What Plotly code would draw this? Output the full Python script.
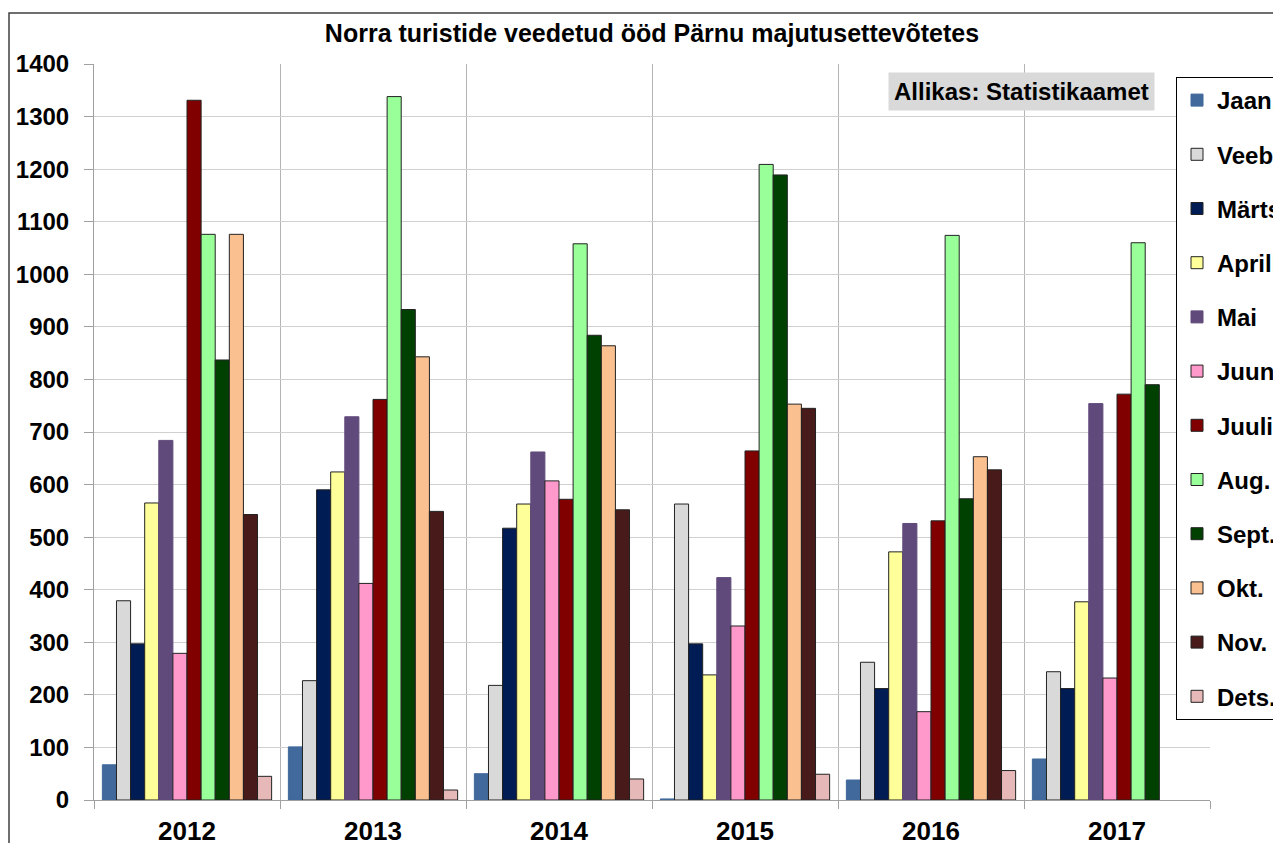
import plotly.graph_objects as go

years = ["2012", "2013", "2014", "2015", "2016", "2017"]

months = ["Jaan.", "Veebr.", "Märts", "Aprill", "Mai", "Juuni",
          "Juuli", "Aug.", "Sept.", "Okt.", "Nov.", "Dets."]

jaan = [67, 101, 50, 2, 38, 78]
veebr = [379, 227, 218, 563, 262, 244]
marts = [297, 590, 517, 297, 212, 212]
aprill = [565, 624, 563, 238, 472, 377]
mai = [684, 729, 662, 423, 526, 754]
juuni = [279, 412, 607, 331, 168, 232]
juuli = [1331, 762, 572, 664, 531, 772]
aug = [1076, 1338, 1058, 1209, 1074, 1060]
sept = [837, 933, 884, 1189, 573, 790]
okt = [1076, 843, 864, 753, 653, None]
nov = [543, 549, 552, 745, 628, None]
dets = [45, 19, 40, 49, 56, None]

series = [jaan, veebr, marts, aprill, mai, juuni, juuli, aug, sept, okt, nov, dets]

colors = ["#41699b", "#d9d9d9", "#001c54", "#ffff99", "#604a7b", "#ff99cc",
          "#800000", "#99ff99", "#004000", "#fac090", "#481a1a", "#e6b9b8"]
# Jaan. and Mai have no dark outline in the original
outlines = ["#41699b", "#222222", "#222222", "#222222", "#604a7b", "#222222",
            "#222222", "#222222", "#222222", "#222222", "#222222", "#222222"]

FONT = "Liberation Sans"
W, H = 1281, 843
# the page body adds 8px around the figure, so everything is shifted back by 8px
L, T = 94 - 8, 64 - 8
PW, PH = 1116, 736

fig = go.Figure()
for name, vals, col, edge in zip(months, series, colors, outlines):
    fig.add_trace(
        go.Bar(
            x=years,
            y=vals,
            name=name,
            legendgroup=name,
            marker=dict(color=col, line=dict(color=edge, width=1)),
        )
    )

fig.update_layout(
    width=W,
    height=H,
    barmode="group",
    bargap=0.09,
    bargroupgap=0,
    plot_bgcolor="white",
    paper_bgcolor="white",
    margin=dict(l=L, r=W - L - PW, t=T, b=H - T - PH, autoexpand=False),
    title=dict(
        text="Norra turistide veedetud ööd Pärnu majutusettevõtetes",
        x=0.5,
        xref="paper",
        xanchor="center",
        y=1 - 25 / H,
        yanchor="middle",
        font=dict(family=FONT, size=25, color="black", weight="bold"),
    ),
    xaxis=dict(
        type="category",
        tickson="boundaries",
        showgrid=True,
        gridcolor="#b4b4b4",
        gridwidth=1,
        showline=True,
        linecolor="#a0a0a0",
        ticks="outside",
        ticklen=8,
        tickcolor="#a0a0a0",
        tickfont=dict(family=FONT, size=26, color="black", weight="bold"),
        ticklabelstandoff=8,
    ),
    yaxis=dict(
        range=[0, 1400],
        dtick=100,
        showgrid=True,
        gridcolor="#d0d0d0",
        gridwidth=1,
        showline=True,
        linecolor="#a0a0a0",
        ticks="outside",
        ticklen=9,
        tickcolor="#a0a0a0",
        zeroline=False,
        tickfont=dict(family=FONT, size=24, color="black", weight="bold"),
        ticklabelstandoff=10,
    ),
    legend=dict(
        x=(1176 - 94) / PW,
        y=(800 - 77) / PH,
        xanchor="left",
        yanchor="top",
        bgcolor="white",
        bordercolor="black",
        borderwidth=1,
        tracegroupgap=20,
        font=dict(family=FONT, size=24, color="black", weight="bold"),
    ),
    annotations=[
        dict(
            text="Allikas: Statistikaamet",
            xref="paper",
            yref="paper",
            x=(1021 - 94) / PW,
            y=(800 - 91) / PH,
            xanchor="center",
            yanchor="middle",
            showarrow=False,
            bgcolor="#d9d9d9",
            borderpad=5,
            font=dict(family=FONT, size=24, color="black", weight="bold"),
        )
    ],
    shapes=[
        dict(
            type="rect",
            xref="paper",
            yref="paper",
            x0=-(94 - 9) / PW,
            x1=1.3,
            y0=-0.2,
            y1=1 + (64 - 13) / PH,
            line=dict(color="#404040", width=1.5),
            layer="below",
        )
    ],
)

fig.write_html("out.html")
